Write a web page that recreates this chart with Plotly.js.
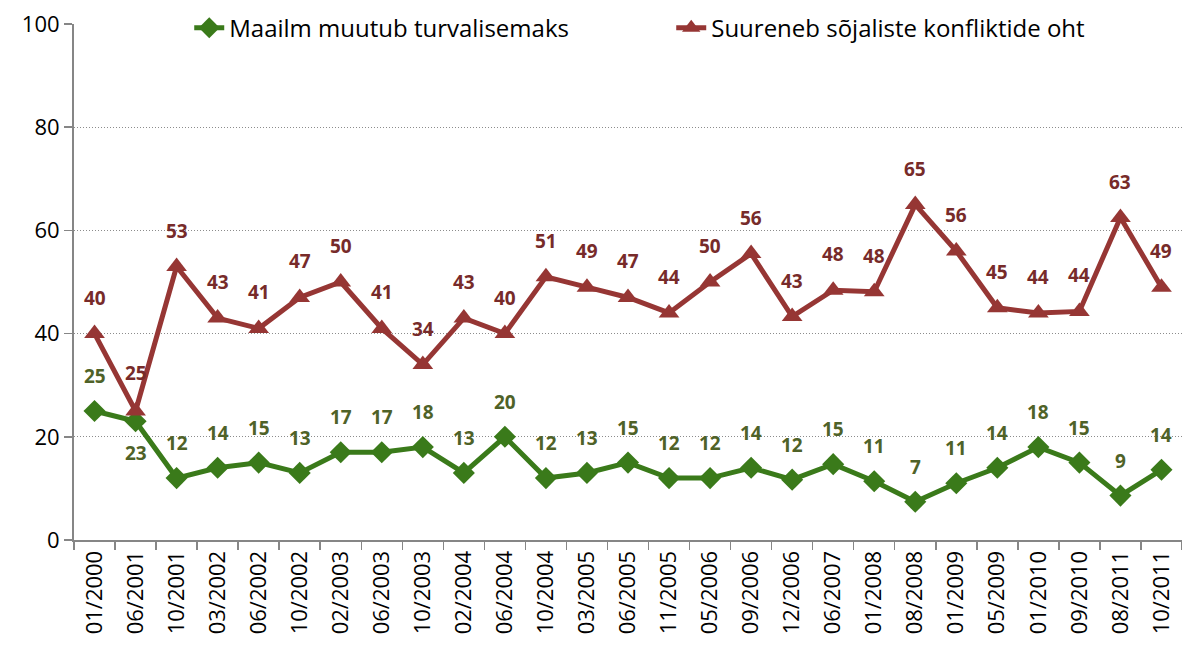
<!DOCTYPE html>
<html><head><meta charset="utf-8">
<script src="https://cdn.plot.ly/plotly-3.0.1.min.js"></script>
<style>html,body{margin:0;padding:0;background:#fff}</style>
</head><body><div id="chart" style="width:1182px;height:648px"></div>
<script>
const categories = ["01/2000","06/2001","10/2001","03/2002","06/2002","10/2002","02/2003","06/2003","10/2003","02/2004","06/2004","10/2004","03/2005","06/2005","11/2005","05/2006","09/2006","12/2006","06/2007","01/2008","08/2008","01/2009","05/2009","01/2010","09/2010","08/2011","10/2011"];
const safer = [25,23,12,14,15,13,17,17,18,13,20,12,13,15,12,12,14,11.7,14.7,11.4,7.4,11,14,18,15,8.6,13.6];
const conflict = [40,25,53,43,41,47,50,41,34,43,40,51,49,47,44,50,55.5,43.3,48.4,48.1,65,56,45,44,44.3,62.5,49];
const saferName = "Maailm muutub turvalisemaks";
const conflictName = "Suureneb sõjaliste konfliktide oht";
const yTicks = [0,20,40,60,80,100];

const greenLine = "#3A7A1A", greenText = "#4F6228";
const redLine = "#963634", redText = "#772B2A";
const font = "Open Sans, Noto Sans, sans-serif";

const traces = [
  {x: categories, y: safer, name: saferName, type: "scatter", mode: "lines+markers",
   line: {color: greenLine, width: 5}, marker: {symbol: "diamond", size: 17, color: greenLine}},
  {x: categories, y: conflict, name: conflictName, type: "scatter", mode: "lines+markers",
   line: {color: redLine, width: 5}, marker: {symbol: "triangle-up", size: 18, color: redLine}}
];

const annotations = [];
categories.forEach((c, i) => {
  const g = {x: c, y: safer[i], text: String(Math.round(safer[i])), showarrow: false,
    font: {family: font, size: 19, color: greenText, weight: "bold"}, yshift: 35};
  if (i === 1) g.yshift = -32;
  annotations.push(g);
  const r = {x: c, y: conflict[i], text: String(Math.round(conflict[i])), showarrow: false,
    font: {family: font, size: 19, color: redText, weight: "bold"}, yshift: 36};
  if (i === 1) r.yshift = 38;
  annotations.push(r);
});

const layout = {
  width: 1182, height: 648,
  margin: {l: 74, r: 0, t: 24, b: 108},
  paper_bgcolor: "#fff", plot_bgcolor: "#fff",
  showlegend: true,
  legend: {orientation: "h", x: 0.104, y: 0.992, xanchor: "left", yanchor: "middle",
    font: {family: font, size: 24, color: "#000"}, entrywidth: 437, bgcolor: "rgba(0,0,0,0)"},
  xaxis: {type: "category", range: [-0.5, categories.length - 0.5], tickangle: -90,
    tickfont: {family: font, size: 22, color: "#000"}, showline: true, linecolor: "#868686", linewidth: 2,
    ticks: "outside", ticklen: 8, tickcolor: "#868686", tickwidth: 1.5, tickson: "boundaries",
    showgrid: false, zeroline: false, fixedrange: true},
  yaxis: {range: [0, 100], tickvals: yTicks, ticktext: yTicks.map(String),
    tickfont: {family: font, size: 22, color: "#000"}, showline: true, linecolor: "#868686", linewidth: 2,
    ticks: "outside", ticklen: 8, tickcolor: "#868686", tickwidth: 1.5,
    showgrid: true, gridcolor: "#8c8c8c", griddash: "1px,2px", gridwidth: 1.3, zeroline: false, fixedrange: true},
  annotations: annotations
};

Plotly.newPlot("chart", traces, layout, {displayModeBar: false, staticPlot: true});
</script>
</body></html>
